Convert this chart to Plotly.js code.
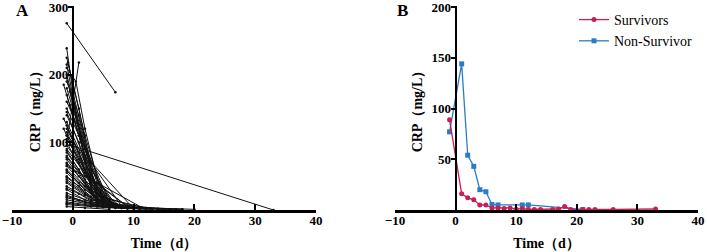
<!DOCTYPE html>
<html>
<head>
<meta charset="utf-8">
<script src="https://cdn.plot.ly/plotly-3.0.1.min.js"></script>
<style>
html,body{margin:0;padding:0;background:#fff;}
#chart{width:707px;height:252px;}
</style>
</head>
<body>
<div id="chart"></div>
<script>
// ---------- Panel A: individual patient CRP trajectories ----------
const patientDays = [
  [-1, 7], [-0.5, 33], [-1, 0, 3, 7], [-1, 1], [-1, 1, 4], [-1, 0.5, 2, 5],
  [-1, 2, 6], [-1, 1, 3, 8], [-1, 3, 7], [-1, 2, 5], [-1, 1, 4, 9], [-1, 2, 4, 7],
  [-1, 3, 6], [-1, 1, 3, 5], [-1, 2, 5, 10], [-1, 2, 4], [-1, 1, 3, 6], [-1, 2, 5, 12],
  [-1, 3, 7], [-1, 1, 4, 8], [-1, 2, 6], [-1, 1, 3, 5, 9], [-1, 2, 4, 7], [-1, 3, 6, 14],
  [-1, 1, 4], [-1, 2, 5, 9], [-1, 1, 3, 6], [-1, 3, 8], [-1, 2, 4, 10], [-1, 1, 5],
  [-1, 2, 6, 11], [-1, 3, 5, 8], [-1, 1, 4, 7], [-1, 2, 6, 18], [-1, 3, 7], [-1, 1, 3, 9],
  [-1, 2, 5], [-1, 4, 10], [-1, 2, 6, 16], [-1, 3, 8], [-1, 1, 4, 12], [-1, 2, 7],
  [-1, 3, 9, 20], [-1, 2, 5], [-1, 4, 10, 17], [-1, 1, 6], [-1, 3, 8, 13], [-1, 2, 7, 15],
  [-1, 4, 11], [-1, 3, 9, 18], [-1, 2, 6], [-1, 10], [-1, 11.5], [-1, 0, 2, 6],
  [-1, 1, 3], [-0.8, 2, 5], [-1.5, 1, 4], [-0.5, 2, 6], [-1.5, 3, 9], [0, 2, 5, 8],
  [-0.5, 1, 3, 7], [-1.5, 2, 8]
];
const patientCRP = [
  [276, 174], [96, 0], [239, 175, 60, 8], [100, 218], [225, 150, 15], [210, 190, 120, 10],
  [200, 95, 12], [190, 140, 70, 6], [180, 60, 4], [170, 80, 10], [160, 120, 40, 5], [150, 90, 30, 6],
  [145, 50, 8], [140, 100, 40, 12], [130, 70, 20, 5], [125, 60, 10], [120, 85, 35, 8], [115, 60, 18, 3],
  [110, 40, 5], [105, 75, 25, 4], [100, 50, 8], [95, 70, 40, 15, 4], [90, 55, 20, 5], [88, 30, 10, 2],
  [85, 60, 12], [80, 45, 15, 3], [78, 55, 25, 6], [75, 25, 4], [70, 40, 15, 3], [68, 50, 8],
  [65, 35, 10, 2], [60, 25, 12, 4], [58, 40, 15, 5], [55, 30, 6, 1], [50, 20, 4], [48, 35, 15, 3],
  [45, 25, 6], [42, 12, 2], [40, 22, 6, 1], [35, 15, 3], [32, 24, 8, 2], [30, 15, 3],
  [25, 12, 4, 1], [22, 12, 4], [20, 8, 3, 1], [18, 14, 3], [15, 8, 3, 1], [12, 8, 3, 1],
  [10, 5, 2], [8, 5, 2, 1], [5, 3, 1], [110, 2], [65, 3], [195, 160, 90, 5],
  [215, 120, 30], [218, 110, 20], [185, 110, 25], [175, 80, 10], [135, 45, 5], [165, 70, 15, 3],
  [155, 110, 45, 6], [120, 50, 4]
];

// ---------- Panel B: group mean CRP ----------
const survDays = [-1, 1, 2, 3, 4, 5, 6, 7, 8, 9, 10, 11, 12, 13, 14, 16, 17, 18, 19, 21, 22, 23, 26, 33];
const survCRP  = [89, 16, 12, 10, 5, 5, 2, 2, 1.5, 2, 0.8, 1.5, 0.5, 0.6, 0.6, 0.6, 1, 3.5, 0.6, 0.4, 0.6, 0.6, 0.5, 1];
const nonDays  = [-1, 1, 2, 3, 4, 5, 6, 7, 11, 12, 21];
const nonCRP   = [77, 144, 54, 43, 20, 18, 5.5, 5, 5, 5, 0.5];

const xTicks = [-10, 0, 10, 20, 30, 40];
const yTicksA = [100, 200, 300];
const yTicksB = [50, 100, 150, 200];

const SERIF = 'Liberation Serif';
const RED = '#C81D5A';
const BLUE = '#2B7DC2';

const traces = [];
patientDays.forEach((d, i) => {
  traces.push({
    x: d, y: patientCRP[i], xaxis: 'x', yaxis: 'y',
    type: 'scatter', mode: 'lines+markers',
    line: {color: '#111', width: 1},
    marker: {color: '#111', size: 2.5},
    showlegend: false, hoverinfo: 'skip', cliponaxis: false
  });
});
traces.push({
  x: nonDays, y: nonCRP, xaxis: 'x2', yaxis: 'y2', name: 'Non-Survivor',
  type: 'scatter', mode: 'lines+markers',
  line: {color: BLUE, width: 1.3},
  marker: {color: BLUE, size: 5, symbol: 'square'},
  cliponaxis: false
});
traces.push({
  x: survDays, y: survCRP, xaxis: 'x2', yaxis: 'y2', name: 'Survivors',
  type: 'scatter', mode: 'lines+markers',
  line: {color: RED, width: 1.3},
  marker: {color: RED, size: 5, symbol: 'circle'},
  cliponaxis: false
});

const W = 707, H = 252;
const axA = [12 / W, 316 / W];
const axB = [395 / W, 698 / W];
const yDom = [1 - 210 / H, 1 - 6 / H];
const tickFont = {family: SERIF, size: 13, color: '#000', weight: 700};
const titleFont = {family: SERIF, size: 14, color: '#000', weight: 700};

function xAxis(dom, anchor) {
  return {
    domain: dom, anchor: anchor, range: [-10, 40], tickvals: xTicks,
    ticks: 'inside', ticklen: 6, tickwidth: 2, tickcolor: '#000',
    showline: true, linewidth: 2.5, linecolor: '#000',
    showgrid: false, zeroline: false, tickfont: tickFont,
    ticklabelstandoff: -3, ticklabeloverflow: 'allow',
    title: {text: 'Time（d）', font: titleFont, standoff: 11}
  };
}
function yAxis(range, ticks, pos) {
  return {
    domain: yDom, anchor: 'free', position: pos, range: range, tickvals: ticks,
    ticks: 'outside', ticklen: 4, tickwidth: 2, tickcolor: '#000',
    showline: true, linewidth: 2.5, linecolor: '#000',
    showgrid: false, zeroline: false, tickfont: tickFont,
    ticklabelstandoff: -3, ticklabeloverflow: 'allow',
    title: {text: 'CRP（mg/L）', font: titleFont, standoff: 4}
  };
}

const layout = {
  width: W, height: H,
  margin: {l: 0, r: 0, t: 0, b: 0},
  paper_bgcolor: '#fff', plot_bgcolor: 'rgba(0,0,0,0)',
  font: {family: SERIF, color: '#000'},
  xaxis: xAxis(axA, 'y'),
  yaxis: yAxis([0, 301.5], yTicksA, (12 + 0.2 * 304) / W),
  xaxis2: xAxis(axB, 'y2'),
  yaxis2: yAxis([0, 201], yTicksB, (395 + 0.2 * 303) / W),
  showlegend: true,
  legend: {
    x: 574 / W, y: 1 - 4 / H, xanchor: 'left', yanchor: 'top',
    traceorder: 'reversed', bgcolor: 'rgba(0,0,0,0)', itemwidth: 30,
    font: {family: SERIF, size: 14, color: '#000'}
  },
  annotations: [
    {text: 'A', xref: 'paper', yref: 'paper', x: 22 / W, y: 1 - 11 / H, showarrow: false,
     xanchor: 'center', yanchor: 'middle', font: {family: SERIF, size: 17, weight: 700, color: '#000'}},
    {text: 'B', xref: 'paper', yref: 'paper', x: 402 / W, y: 1 - 11 / H, showarrow: false,
     xanchor: 'center', yanchor: 'middle', font: {family: SERIF, size: 17, weight: 700, color: '#000'}}
  ]
};

Plotly.newPlot('chart', traces, layout, {displayModeBar: false, staticPlot: true});
</script>
</body>
</html>
